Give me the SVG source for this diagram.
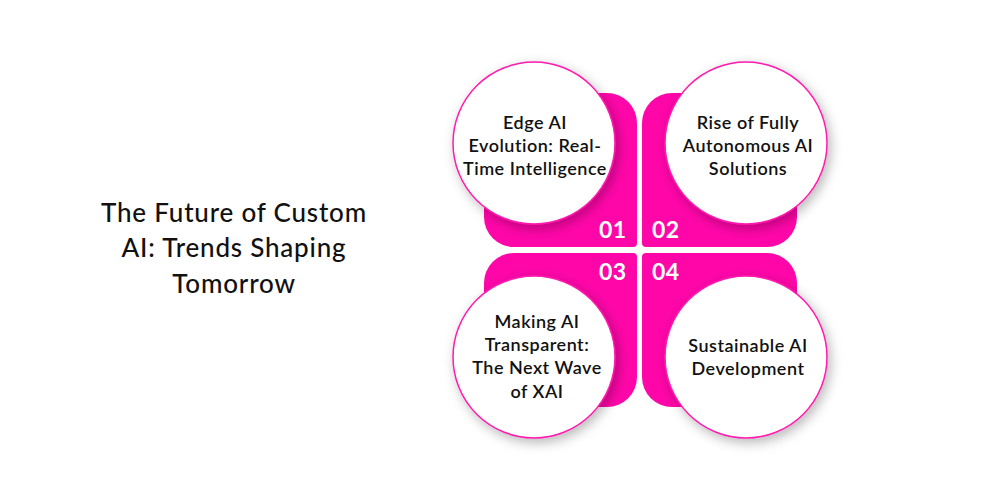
<svg xmlns="http://www.w3.org/2000/svg" width="1000" height="500" viewBox="0 0 1000 500">
<defs>
<style>
.quad{fill:#ff06a9}
.circ{fill:#ffffff;stroke:#ff1aae;stroke-width:1.5;filter:url(#sh)}
.ctext{font-family:"Lato","Open Sans",sans-serif;font-weight:600;font-size:18px;letter-spacing:0.5px;fill:#111111;text-anchor:middle}
.num{font-family:"Lato","Open Sans",sans-serif;font-weight:700;font-size:23px;letter-spacing:0.5px;fill:#ffffff}
.title{font-family:"Lato","Open Sans",sans-serif;font-weight:500;font-size:26px;letter-spacing:0.8px;fill:#111111;text-anchor:middle}
</style>
<filter id="sh" x="-30%" y="-30%" width="160%" height="160%">
<feDropShadow dx="3" dy="4" stdDeviation="6" flood-color="#000000" flood-opacity="0.28"/>
</filter>
</defs>
<rect width="1000" height="500" fill="#ffffff"/>
<g id="title">
<text class="title" x="234" y="222">The Future of Custom</text>
<text class="title" x="234" y="257">AI: Trends Shaping</text>
<text class="title" x="234" y="293">Tomorrow</text>
</g>
<g id="quadrants">
<path class="quad" d="M514 93 H607 A30 30 0 0 1 637 123 V243 A4 4 0 0 1 633 247 H514 A30 30 0 0 1 484 217 V123 A30 30 0 0 1 514 93 Z"/>
<path class="quad" d="M672 93 H767 A30 30 0 0 1 797 123 V217 A30 30 0 0 1 767 247 H646 A4 4 0 0 1 642 243 V123 A30 30 0 0 1 672 93 Z"/>
<path class="quad" d="M514 253 H633 A4 4 0 0 1 637 257 V377 A30 30 0 0 1 607 407 H514 A30 30 0 0 1 484 377 V283 A30 30 0 0 1 514 253 Z"/>
<path class="quad" d="M646 253 H767 A30 30 0 0 1 797 283 V377 A30 30 0 0 1 767 407 H672 A30 30 0 0 1 642 377 V257 A4 4 0 0 1 646 253 Z"/>
</g>
<g id="node1">
<circle class="circ" cx="534" cy="143" r="81"/>
<text class="ctext" x="535" y="129">Edge AI</text>
<text class="ctext" x="535" y="152">Evolution: Real-</text>
<text class="ctext" x="535" y="175">Time Intelligence</text>
<text class="num" x="599" y="238">01</text>
</g>
<g id="node2">
<circle class="circ" cx="746" cy="143" r="81"/>
<text class="ctext" x="748" y="129">Rise of Fully</text>
<text class="ctext" x="748" y="152">Autonomous AI</text>
<text class="ctext" x="748" y="175">Solutions</text>
<text class="num" x="652" y="238">02</text>
</g>
<g id="node3">
<circle class="circ" cx="534" cy="357" r="81"/>
<text class="ctext" x="537" y="328">Making AI</text>
<text class="ctext" x="537" y="351">Transparent:</text>
<text class="ctext" x="537" y="374">The Next Wave</text>
<text class="ctext" x="537" y="398">of XAI</text>
<text class="num" x="599" y="280">03</text>
</g>
<g id="node4">
<circle class="circ" cx="746" cy="357" r="81"/>
<text class="ctext" x="748" y="352">Sustainable AI</text>
<text class="ctext" x="748" y="375">Development</text>
<text class="num" x="652" y="280">04</text>
</g>
</svg>
